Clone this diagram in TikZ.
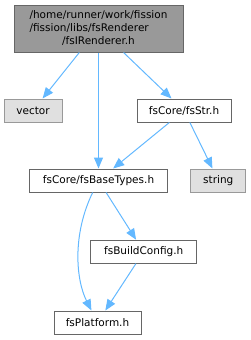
\documentclass[tikz,border=0pt]{standalone}
\usepackage{fontspec}
\setmainfont{DejaVu Sans}
\usepackage{xcolor}
\usepackage{tikz}
\usetikzlibrary{arrows.meta}

\definecolor{edgeblue}{HTML}{63B8FF}
\definecolor{boxgray}{HTML}{666666}
\definecolor{sysgray}{HTML}{999999}
\definecolor{sysfill}{HTML}{E0E0E0}

\begin{document}
\begin{tikzpicture}[
    x=1pt,y=-1pt,
    every node/.style={font=\fontsize{10.5}{13}\selectfont},
    current/.style={rectangle,draw=boxgray,fill=sysgray,line width=1pt,inner sep=1pt,minimum width=169,minimum height=47},
    header/.style={rectangle,draw=boxgray,fill=white,line width=1pt,inner sep=1pt,minimum height=23},
    sysinc/.style={rectangle,draw=sysgray,fill=sysfill,line width=1pt,inner sep=1pt,minimum height=23},
    incedge/.style={edgeblue,line width=1pt,-{Triangle[length=11pt,width=9pt]}},
]
\useasboundingbox (0,0) rectangle (251,340);
\node[current] (R) at (98.5,28.5)
  {\begin{tabular}{@{}l@{}}/home/runner/work/fission\\/fission/libs/fsRenderer\\\multicolumn{1}{@{}c@{}}{/fsIRenderer.h}\end{tabular}};
\node[sysinc,minimum width=58] (V) at (33,110.5) {vector};
\node[header,minimum width=94] (S) at (184,110.5) {fsCore/fsStr.h};
\node[header,minimum width=138] (B) at (98.5,180.5) {fsCore/fsBaseTypes.h};
\node[sysinc,minimum width=55] (T) at (218.3,180.5) {string};
\node[header,minimum width=106] (C) at (143.7,251.7) {fsBuildConfig.h};
\node[header,minimum width=87] (P) at (97.5,322.5) {fsPlatform.h};
\draw[incedge] (R) -- (V);
\draw[incedge] (R) -- (B);
\draw[incedge] (R) -- (S);
\draw[incedge] (S) -- (B);
\draw[incedge] (S) -- (T);
\draw[incedge] (B) .. controls (72,235) and (76,280) .. (P);
\draw[incedge] (B) -- (C);
\draw[incedge] (C) -- (P);
\end{tikzpicture}
\end{document}
